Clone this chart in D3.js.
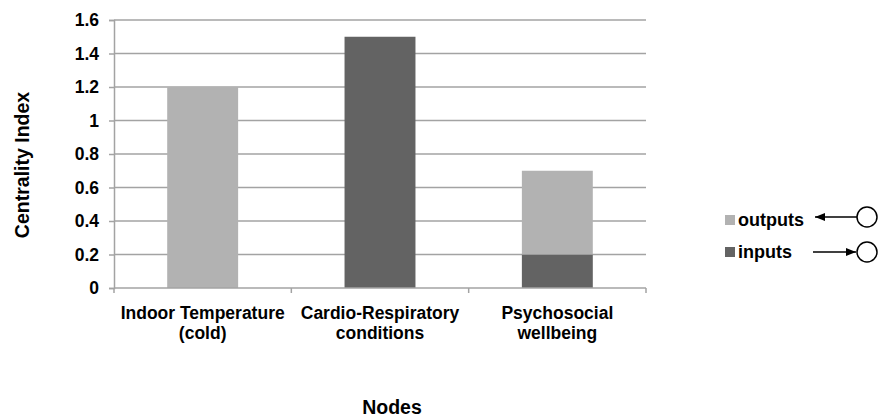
<!DOCTYPE html>
<html>
<head>
<meta charset="utf-8">
<title>Centrality Index</title>
<script src="https://d3js.org/d3.v7.min.js"></script>
<style>
body { margin: 0; background: #fff; }
</style>
</head>
<body>
<script>
var categories = [["Indoor Temperature", "(cold)"], ["Cardio-Respiratory", "conditions"], ["Psychosocial", "wellbeing"]];
var inputs = [0, 1.5, 0.2];
var outputs = [1.2, 0, 0.5];
var seriesNames = ["inputs", "outputs"];
var yTicks = [0, 0.2, 0.4, 0.6, 0.8, 1, 1.2, 1.4, 1.6];
var colors = {inputs: "#636363", outputs: "#b2b2b2"};

var FONT = "'Liberation Sans', Arial, sans-serif";
var width = 881, height = 417;
var margin = {top: 20, left: 114, right: 235, bottom: 129};

var svg = d3.select("body").append("svg")
  .attr("width", width).attr("height", height)
  .attr("font-family", FONT).attr("font-weight", "bold");

var x = d3.scaleBand()
  .domain(d3.range(categories.length))
  .range([margin.left, width - margin.right])
  .paddingInner(0.6).paddingOuter(0.3);

var y = d3.scaleLinear()
  .domain([0, 1.6])
  .range([height - margin.bottom, margin.top]);

// gridlines
svg.append("g").selectAll("line")
  .data(yTicks.slice(1))
  .enter().append("line")
  .attr("x1", margin.left).attr("x2", width - margin.right)
  .attr("y1", function(d){ return y(d); }).attr("y2", function(d){ return y(d); })
  .attr("stroke", "#a3a3a3").attr("stroke-width", 1.5);

// stacked bars
var rows = categories.map(function(c, i){ return {i: i, inputs: inputs[i], outputs: outputs[i]}; });
var stack = d3.stack().keys(seriesNames)(rows);
svg.append("g").selectAll("g")
  .data(stack)
  .enter().append("g")
  .attr("fill", function(d){ return colors[d.key]; })
  .selectAll("rect")
  .data(function(d){ return d; })
  .enter().append("rect")
  .attr("x", function(d){ return x(d.data.i); })
  .attr("width", x.bandwidth())
  .attr("y", function(d){ return y(d[1]); })
  .attr("height", function(d){ return y(d[0]) - y(d[1]); });

// y axis
var yAxis = svg.append("g")
  .attr("transform", "translate(" + margin.left + ",0)")
  .call(d3.axisLeft(y).tickValues(yTicks).tickSize(5).tickPadding(10)
    .tickFormat(function(d){ return d3.format("")(+d.toFixed(1)); }));
yAxis.attr("font-family", FONT).attr("font-size", 17.5);
yAxis.select(".domain").attr("stroke", "#a3a3a3").attr("stroke-width", 1.5);
yAxis.selectAll(".tick line").attr("stroke", "#a3a3a3").attr("stroke-width", 1.5);
yAxis.selectAll("text").attr("fill", "#000");

// x axis
var xAxisY = y(0);
var xg = svg.append("g");
xg.append("line")
  .attr("x1", margin.left).attr("x2", width - margin.right)
  .attr("y1", xAxisY).attr("y2", xAxisY)
  .attr("stroke", "#a3a3a3").attr("stroke-width", 1.5);
xg.selectAll(".xt")
  .data(d3.range(categories.length + 1))
  .enter().append("line")
  .attr("x1", function(i){ return margin.left + i * (width - margin.left - margin.right) / categories.length; })
  .attr("x2", function(i){ return margin.left + i * (width - margin.left - margin.right) / categories.length; })
  .attr("y1", xAxisY).attr("y2", xAxisY + 5)
  .attr("stroke", "#a3a3a3").attr("stroke-width", 1.5);

var labels = xg.selectAll(".xl")
  .data(categories)
  .enter().append("text")
  .attr("text-anchor", "middle")
  .attr("font-size", 17.5)
  .attr("transform", function(d, i){ return "translate(" + (x(i) + x.bandwidth() / 2) + "," + (xAxisY + 31) + ")"; });
labels.selectAll("tspan")
  .data(function(d){ return d; })
  .enter().append("tspan")
  .attr("x", 0)
  .attr("dy", function(d, j){ return j === 0 ? 0 : 20; })
  .text(function(d){ return d; });

// axis titles
svg.append("text")
  .attr("transform", "translate(29,165) rotate(-90)")
  .attr("text-anchor", "middle")
  .attr("font-size", 19.5)
  .text("Centrality Index");

svg.append("text")
  .attr("x", 392).attr("y", 414)
  .attr("text-anchor", "middle")
  .attr("font-size", 19.5)
  .text("Nodes");

// legend
var legendItems = ["outputs", "inputs"];
var leg = svg.append("g").selectAll("g")
  .data(legendItems)
  .enter().append("g")
  .attr("transform", function(d, i){ return "translate(725," + (215 + i * 32) + ")"; });
leg.append("rect")
  .attr("width", 10).attr("height", 10)
  .attr("fill", function(d){ return colors[d]; });
leg.append("text")
  .attr("x", 13).attr("y", 11)
  .attr("font-size", 18)
  .text(function(d){ return d; });

// arrow markers and circles
var defs = svg.append("defs");
defs.append("marker")
  .attr("id", "arrow")
  .attr("viewBox", "0 -5 10 10")
  .attr("refX", 10).attr("refY", 0)
  .attr("markerWidth", 12).attr("markerHeight", 10)
  .attr("markerUnits", "userSpaceOnUse")
  .attr("orient", "auto")
  .append("path")
  .attr("d", "M0,-4L10,0L0,4Z")
  .attr("fill", "#000");

svg.append("line")
  .attr("x1", 857).attr("x2", 815)
  .attr("y1", 217).attr("y2", 217)
  .attr("stroke", "#000").attr("stroke-width", 1.5)
  .attr("marker-end", "url(#arrow)");
svg.append("line")
  .attr("x1", 813).attr("x2", 856)
  .attr("y1", 252).attr("y2", 252)
  .attr("stroke", "#000").attr("stroke-width", 1.5)
  .attr("marker-end", "url(#arrow)");
svg.selectAll(".node")
  .data([217, 252])
  .enter().append("circle")
  .attr("cx", 867).attr("cy", function(d){ return d; })
  .attr("r", 10)
  .attr("fill", "#fff").attr("stroke", "#000").attr("stroke-width", 1.5);
</script>
</body>
</html>
